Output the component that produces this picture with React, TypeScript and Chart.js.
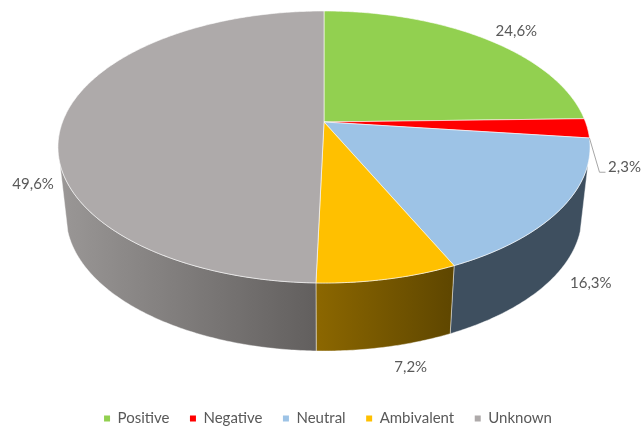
import React, { useEffect, useRef } from "react";
import { Chart, registerables } from "chart.js";

Chart.register(...registerables);

const categories = ["Positive", "Negative", "Neutral", "Ambivalent", "Unknown"];
const shares = [24.6, 2.3, 16.3, 7.2, 49.6];
const topColors = ["#92d050", "#ff0000", "#9dc3e6", "#ffc000", "#aeaaaa"];
const wallStops = [
  ["#5f7f3a", "#5f7f3a"],
  ["#990000", "#990000"],
  ["#3e4f5f", "#3e4f5f"],
  ["#5e4600", "#8c6700"],
  ["#625f5e", "#9a9796"],
];
const labelOffsets = [
  [31, -8],
  [37, 39],
  [30, 74],
  [23, 88],
  [-30, 64],
];

const FONT = "Lato, 'Open Sans', sans-serif";
const TILT = -0.1838;
const TOP_RIM = { cx: 324, cy: 122, a: 261.5, b: 131.4 };
const BOTTOM_RIM = { cx: 324, cy: 190.5, a: 253.6, b: 131 };
const WALL_FROM = (17.2 * Math.PI) / 180;
const WALL_TO = (162.8 * Math.PI) / 180;

type Rim = typeof TOP_RIM;

// Perspective projection of a point on the pie's circle; angles as the arc elements hold them.
function project(rim: Rim, angle: number): [number, number] {
  const x = Math.cos(angle);
  const y = Math.sin(angle);
  const w = 1 + TILT * y;
  return [rim.cx + (rim.a * x) / w, rim.cy + (rim.b * y) / w];
}

function traceRim(ctx: CanvasRenderingContext2D, rim: Rim, from: number, to: number, start: boolean) {
  const steps = Math.max(2, Math.ceil(Math.abs(to - from) / 0.01));
  for (let i = 0; i <= steps; i++) {
    const [px, py] = project(rim, from + ((to - from) * i) / steps);
    if (i === 0 && start) ctx.moveTo(px, py);
    else ctx.lineTo(px, py);
  }
}

const pie3d = {
  id: "pie3d",
  beforeDatasetsDraw(chart: any) {
    const ctx: CanvasRenderingContext2D = chart.ctx;
    const arcs = chart.getDatasetMeta(0).data;
    ctx.save();
    ctx.lineJoin = "round";

    // side wall, only on the near part of the rim
    arcs.forEach((arc: any, i: number) => {
      const from = Math.max(arc.startAngle, WALL_FROM);
      const to = Math.min(arc.endAngle, WALL_TO);
      if (to <= from) return;
      const [x0] = project(TOP_RIM, from);
      const [x1] = project(TOP_RIM, to);
      const g = ctx.createLinearGradient(x0, 0, x1, 0);
      g.addColorStop(0, wallStops[i][0]);
      g.addColorStop(1, wallStops[i][1]);
      ctx.beginPath();
      traceRim(ctx, TOP_RIM, from, to, true);
      traceRim(ctx, BOTTOM_RIM, to, from, false);
      ctx.closePath();
      ctx.fillStyle = g;
      ctx.fill();
      ctx.strokeStyle = "rgba(255,255,255,0.55)";
      ctx.lineWidth = 0.8;
      ctx.stroke();
    });

    // top face
    arcs.forEach((arc: any) => {
      ctx.beginPath();
      ctx.moveTo(TOP_RIM.cx, TOP_RIM.cy);
      traceRim(ctx, TOP_RIM, arc.startAngle, arc.endAngle, false);
      ctx.closePath();
      ctx.fillStyle = arc.options.backgroundColor;
      ctx.fill();
      ctx.strokeStyle = "rgba(255,255,255,0.65)";
      ctx.lineWidth = 0.9;
      ctx.stroke();
    });

    // leader line of the thin slice
    const thin = arcs[1];
    const [sx, sy] = project(TOP_RIM, thin.endAngle);
    const mid = (thin.startAngle + thin.endAngle) / 2;
    const [mx, my] = project(TOP_RIM, mid);
    const lx = mx + labelOffsets[1][0];
    const ly = my + labelOffsets[1][1];
    ctx.beginPath();
    ctx.moveTo(sx, sy);
    ctx.lineTo(lx - 25, ly + 5);
    ctx.lineTo(lx - 19, ly + 5);
    ctx.strokeStyle = "#a6a6a6";
    ctx.lineWidth = 1;
    ctx.stroke();

    // value labels
    ctx.font = `15px ${FONT}`;
    ctx.fillStyle = "#595959";
    ctx.textAlign = "center";
    ctx.textBaseline = "middle";
    arcs.forEach((arc: any, i: number) => {
      const [px, py] = project(TOP_RIM, (arc.startAngle + arc.endAngle) / 2);
      ctx.fillText(
        shares[i].toFixed(1).replace(".", ",") + "%",
        px + labelOffsets[i][0],
        py + labelOffsets[i][1]
      );
    });
    ctx.restore();
    return false;
  },
};

export default function App() {
  const ref = useRef<HTMLCanvasElement>(null);
  useEffect(() => {
    const chart = new Chart(ref.current!, {
      type: "pie",
      data: {
        labels: categories,
        datasets: [{ data: shares, backgroundColor: topColors, borderWidth: 0 }],
      },
      options: {
        responsive: false,
        animation: false,
        layout: { padding: { left: 14, right: 0, top: 0, bottom: -10 } },
        plugins: {
          tooltip: { enabled: false },
          legend: {
            position: "bottom",
            labels: {
              boxWidth: 6,
              boxHeight: 6,
              padding: 20.5,
              color: "#595959",
              font: { family: FONT, size: 15 },
            },
          },
        },
      },
      plugins: [pie3d],
    } as any);
    return () => chart.destroy();
  }, []);
  return (
    <div style={{ position: "absolute", left: 0, top: 0, width: 642, height: 426 }}>
      <canvas ref={ref} width={642} height={426} style={{ display: "block" }} />
    </div>
  );
}
